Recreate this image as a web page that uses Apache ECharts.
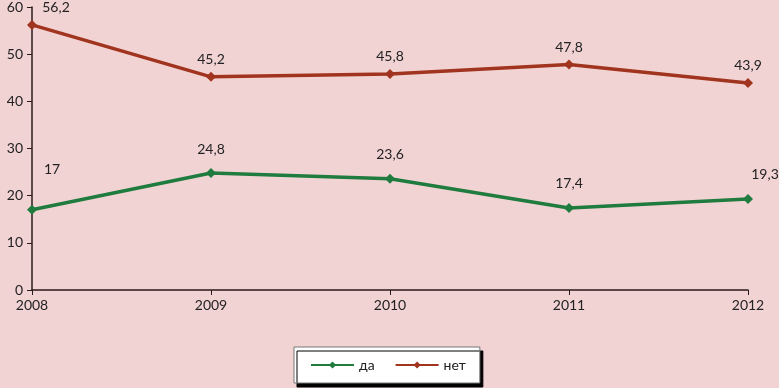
<!DOCTYPE html>
<html><head><meta charset="utf-8">
<script src="https://cdn.jsdelivr.net/npm/echarts@6/dist/echarts.min.js"></script>
<style>html,body{margin:0;padding:0;background:#F2D3D4;}#c{width:779px;height:388px;}</style>
</head><body><div id="c"></div>
<script>
var years = ['2008','2009','2010','2011','2012'];
var da = [17, 24.8, 23.6, 17.4, 19.3];
var net = [56.2, 45.2, 45.8, 47.8, 43.9];
var yTicks = [0,10,20,30,40,50,60];

var fnt = 'Lato, "Open Sans", sans-serif';
function fmt(v){ return String(v).replace('.', ','); }
var daOff = [[20,-16],[0,0],[0,0],[0,0],[17,0]];
var netOff = [[24,0],[0,0],[0,0],[0,0],[0,0]];
function build(vals, offs){
  return vals.map(function(v,i){
    return {value:v, label:{offset:offs[i]}};
  });
}
var chart = echarts.init(document.getElementById('c'));
chart.setOption({
  backgroundColor:'#F2D3D4',
  animation:false,
  textStyle:{fontFamily:fnt},
  grid:{left:32,right:31,top:6,bottom:98},
  legend:{
    top:347, left:294,
    data:['да','нет'],
    backgroundColor:'#ffffff', borderColor:'#777', borderWidth:1,
    shadowColor:'#000', shadowOffsetX:3, shadowOffsetY:4, shadowBlur:0,
    padding:[11,14,11,16], itemGap:20, itemWidth:43, itemHeight:9,
    textStyle:{fontFamily:fnt,fontSize:14,color:'#222'}
  },
  xAxis:{
    type:'category', data:years, boundaryGap:false,
    axisLine:{lineStyle:{color:'#2a1a1a',width:1.5}},
    axisTick:{show:true,alignWithLabel:true,length:5,lineStyle:{color:'#2a1a1a'}},
    axisLabel:{color:'#222',fontSize:14,fontFamily:fnt,margin:8},
    splitLine:{show:false}
  },
  yAxis:{
    type:'value', min:0, max:60, interval:10,
    axisLine:{show:true,lineStyle:{color:'#2a1a1a',width:1.5}},
    axisTick:{show:true,length:5,lineStyle:{color:'#2a1a1a'}},
    axisLabel:{color:'#222',fontSize:14,fontFamily:fnt,margin:9},
    splitLine:{show:false}
  },
  series:[
    {name:'да',type:'line',data:build(da,daOff),symbol:'diamond',symbolSize:10,
     lineStyle:{color:'#1F7C3E',width:3.5},itemStyle:{color:'#1F7C3E'},
     label:{show:true,position:'top',distance:12,color:'#222',fontSize:14,fontFamily:fnt,formatter:function(p){return fmt(p.value);}}},
    {name:'нет',type:'line',data:build(net,netOff),symbol:'diamond',symbolSize:10,
     lineStyle:{color:'#A1341F',width:3.5},itemStyle:{color:'#A1341F'},
     label:{show:true,position:'top',distance:5,color:'#222',fontSize:14,fontFamily:fnt,formatter:function(p){return fmt(p.value);}}}
  ]
});
</script></body></html>
